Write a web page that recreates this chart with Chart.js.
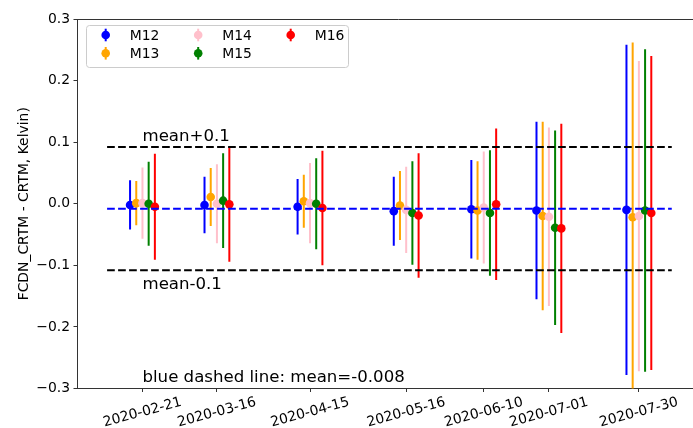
<!DOCTYPE html>
<html>
<head>
<meta charset="utf-8">
<script src="https://cdn.jsdelivr.net/npm/chart.js@4"></script>
<style>
  html, body { margin: 0; padding: 0; background: #fff; overflow: hidden; }
  #marco { width: 693px; height: 428px; overflow: hidden; }
  canvas { display: block; }
</style>
</head>
<body>
<div id="marco"><canvas id="grafico" width="720" height="428"></canvas></div>
<script>
// fechas de cada pasada y canales
const fechas = ["2020-02-21", "2020-03-16", "2020-04-15", "2020-05-16", "2020-06-10", "2020-07-01", "2020-07-30"];
const canales = ["M12", "M13", "M14", "M15", "M16"];

// diferencia media (K) y desviación de cada canal por fecha
const m12 = [-0.002, -0.002, -0.005, -0.012, -0.009, -0.011, -0.010];
const m12Err = [0.040, 0.046, 0.045, 0.056, 0.080, 0.144, 0.268];
const m13 = [0.001, 0.011, 0.004, -0.003, -0.011, -0.020, -0.022];
const m13Err = [0.036, 0.047, 0.043, 0.056, 0.080, 0.153, 0.284];
const m14 = [0.001, 0.000, 0.001, -0.010, -0.006, -0.021, -0.020];
const m14Err = [0.058, 0.064, 0.065, 0.070, 0.091, 0.145, 0.252];
const m15 = [0.000, 0.005, 0.000, -0.015, -0.015, -0.039, -0.011];
const m15Err = [0.068, 0.077, 0.074, 0.084, 0.102, 0.158, 0.262];
const m16 = [-0.005, -0.001, -0.007, -0.019, -0.001, -0.040, -0.015];
const m16Err = [0.086, 0.093, 0.093, 0.101, 0.123, 0.170, 0.255];

const media = -0.008;
const ticksY = [-0.3, -0.2, -0.1, 0, 0.1, 0.2, 0.3];

const valores = [m12, m13, m14, m15, m16];
const errores = [m12Err, m13Err, m14Err, m15Err, m16Err];
const colores = ["#0000ff", "#ffa500", "#ffc0cb", "#008000", "#ff0000"];

const FUENTE = "DejaVu Sans";
Chart.defaults.font.family = FUENTE;
Chart.defaults.color = "#000";

function diaDelAnio(f) {
  const [a, m, d] = f.split("-").map(Number);
  return (Date.UTC(a, m - 1, d) - Date.UTC(a, 0, 0)) / 864e5;
}
const dias = fechas.map(diaDelAnio);
// cada canal se corre 2 días para que no se tapen
const desfase = i => (i - 2) * 2;

const puntos = canales.map((nombre, i) => ({
  label: nombre,
  data: dias.map((d, j) => ({ x: d + desfase(i), y: valores[i][j] })),
  backgroundColor: colores[i],
  borderColor: colores[i],
  pointRadius: 4.3,
  pointHoverRadius: 4.3,
  pointBorderWidth: 0,
  showLine: false,
  order: 10 - i
}));

function lineaHorizontal(y, color) {
  return {
    type: "line",
    data: [{ x: 40.6, y }, { x: 222.6, y }],
    borderColor: color,
    borderWidth: 2,
    borderDash: [7.7, 3.3],
    pointRadius: 0,
    fill: false,
    order: 0
  };
}

// barras de error verticales, sin tope
const barrasError = {
  id: "barrasError",
  beforeDatasetsDraw(chart) {
    const { ctx, chartArea: a, scales: { x, y } } = chart;
    ctx.save();
    ctx.beginPath();
    ctx.rect(a.left, a.top, a.right - a.left, a.bottom - a.top);
    ctx.clip();
    ctx.lineWidth = 2;
    canales.forEach((_, i) => {
      ctx.strokeStyle = colores[i];
      dias.forEach((d, j) => {
        const px = x.getPixelForValue(d + desfase(i));
        ctx.beginPath();
        ctx.moveTo(px, y.getPixelForValue(valores[i][j] - errores[i][j]));
        ctx.lineTo(px, y.getPixelForValue(valores[i][j] + errores[i][j]));
        ctx.stroke();
      });
    });
    ctx.restore();
    ctx.beginPath();
  }
};

const extras = {
  id: "extras",
  afterDraw(chart) {
    const { ctx, chartArea: a, scales: { x, y } } = chart;
    ctx.save();

    // borde superior del marco
    ctx.strokeStyle = "#333";
    ctx.lineWidth = 1;
    ctx.beginPath();
    ctx.moveTo(a.left, a.top + 0.5);
    ctx.lineTo(chart.width, a.top + 0.5);
    ctx.stroke();

    // fechas inclinadas, centradas en la marca
    ctx.font = `13.9px "${FUENTE}"`;
    ctx.fillStyle = "#000";
    ctx.textAlign = "center";
    ctx.textBaseline = "middle";
    dias.forEach((d, j) => {
      ctx.save();
      ctx.translate(x.getPixelForValue(d), a.bottom + 24);
      ctx.rotate(-15 * Math.PI / 180);
      ctx.fillText(fechas[j], 0, 0);
      ctx.restore();
    });

    // textos de referencia
    const x0 = x.getPixelForValue(dias[0]);
    ctx.font = `16.6px "${FUENTE}"`;
    ctx.textAlign = "left";
    ctx.textBaseline = "alphabetic";
    ctx.fillText("mean+0.1", x0, y.getPixelForValue(media + 0.1 + 0.01));
    ctx.fillText("mean-0.1", x0, y.getPixelForValue(media - 0.1 - 0.03));
    ctx.fillText("blue dashed line: mean=" + media, x0, y.getPixelForValue(-0.29));

    // leyenda en 3 columnas
    ctx.beginPath();
    ctx.roundRect(86.5, 25.5, 262, 42, 3);
    ctx.fillStyle = "rgba(255,255,255,0.8)";
    ctx.fill();
    ctx.strokeStyle = "#cccccc";
    ctx.stroke();
    ctx.font = `13.9px "${FUENTE}"`;
    ctx.textBaseline = "middle";
    canales.forEach((nombre, i) => {
      const mx = 105.7 + Math.floor(i / 2) * 92.5;
      const my = 35 + (i % 2) * 18.3;
      ctx.strokeStyle = colores[i];
      ctx.fillStyle = colores[i];
      ctx.lineWidth = 2;
      ctx.beginPath();
      ctx.moveTo(mx, my - 6.3);
      ctx.lineTo(mx, my + 6.3);
      ctx.stroke();
      ctx.beginPath();
      ctx.arc(mx, my, 4.3, 0, Math.PI * 2);
      ctx.fill();
      ctx.fillStyle = "#000";
      ctx.fillText(nombre, mx + 24, my + 1);
    });

    ctx.restore();
  }
};

new Chart(document.getElementById("grafico"), {
  type: "scatter",
  data: {
    datasets: [
      ...puntos,
      lineaHorizontal(media + 0.1, "#000"),
      lineaHorizontal(media - 0.1, "#000"),
      lineaHorizontal(media, "#0000ff")
    ]
  },
  options: {
    responsive: false,
    animation: false,
    devicePixelRatio: 1,
    layout: { padding: { left: 0, right: 20, top: 19, bottom: 0 } },
    plugins: { legend: { display: false }, tooltip: { enabled: false } },
    scales: {
      x: {
        type: "linear",
        min: 30.9,
        max: 231.7,
        afterBuildTicks: eje => { eje.ticks = dias.map(v => ({ value: v })); },
        afterFit: eje => { eje.height = 39.5; },
        ticks: { display: false },
        grid: { drawOnChartArea: false, drawTicks: true, tickLength: 3.5, color: "#333", lineWidth: 1 },
        border: { display: true, color: "#333", width: 1 }
      },
      y: {
        min: -0.3,
        max: 0.3,
        afterBuildTicks: eje => { eje.ticks = ticksY.map(v => ({ value: v })); },
        afterFit: eje => { eje.width = 77; },
        ticks: {
          callback: v => v.toFixed(1).replace("-", "\u2212"),
          font: { size: 13.9 },
          color: "#000",
          padding: 3.5
        },
        grid: { drawOnChartArea: false, tickLength: 3.5, color: "#333", lineWidth: 1 },
        border: { display: true, color: "#333", width: 1 },
        title: {
          display: true,
          text: "FCDN_CRTM - CRTM, Kelvin)",
          font: { size: 13.9 },
          color: "#000",
          padding: { top: 16, bottom: 0 }
        }
      }
    }
  },
  plugins: [barrasError, extras]
});
</script>
</body>
</html>
